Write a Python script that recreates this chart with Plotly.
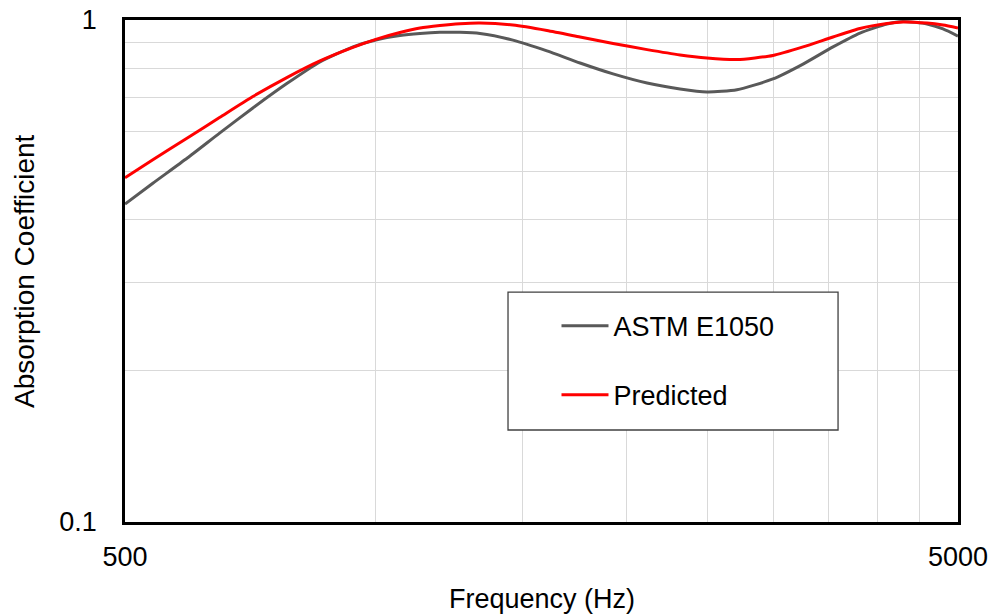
import plotly.graph_objects as go

# Normal-incidence absorption coefficient vs. frequency
freq = [500, 540, 594, 650, 712, 782, 857, 939, 1000, 1069, 1130, 1194, 1262,
        1334, 1461, 1605, 1759, 1927, 2117, 2319, 2498, 2714, 2998, 3258, 3539,
        3813, 4109, 4295, 4590, 4797, 5000]
alpha_astm = [0.430, 0.473, 0.531, 0.596, 0.668, 0.747, 0.825, 0.884, 0.912, 0.931,
              0.940, 0.945, 0.945, 0.940, 0.912, 0.868, 0.821, 0.781, 0.749, 0.729,
              0.719, 0.726, 0.763, 0.817, 0.884, 0.942, 0.982, 0.993, 0.982, 0.960,
              0.929]
alpha_pred = [0.485, 0.527, 0.582, 0.640, 0.704, 0.768, 0.829, 0.882, 0.915, 0.944,
              0.964, 0.975, 0.983, 0.986, 0.977, 0.953, 0.925, 0.898, 0.873, 0.852,
              0.840, 0.834, 0.850, 0.884, 0.925, 0.962, 0.984, 0.991, 0.986, 0.977,
              0.964]

x_ticks = [500, 5000]
x_ticktext = ["500", "5000"]
x_grid = [1000, 1500, 2000, 2500, 3000, 3500, 4000, 4500]
y_ticks = [0.1, 1]
y_ticktext = ["0.1", "1"]
y_grid = [0.2, 0.3, 0.4, 0.5, 0.6, 0.7, 0.8, 0.9]

FONT = "Liberation Sans, Arial, sans-serif"
GRID = "#d9d9d9"

fig = go.Figure()
fig.add_trace(go.Scatter(
    x=freq, y=alpha_astm, mode="lines", name="ASTM E1050",
    line=dict(color="#595959", width=3, shape="spline", smoothing=0.6),
    legendgroup="a",
))
fig.add_trace(go.Scatter(
    x=freq, y=alpha_pred, mode="lines", name="Predicted",
    line=dict(color="#ff0000", width=3, shape="spline", smoothing=0.6),
    legendgroup="b",
))

fig.update_layout(
    width=995, height=615,
    margin=dict(l=125, r=37, t=20, b=93),
    paper_bgcolor="white", plot_bgcolor="white",
    font=dict(family=FONT, size=27, color="#000000"),
    showlegend=True,
    legend=dict(
        x=0.518, xanchor="left", y=0.439, yanchor="top",
        bgcolor="rgba(0,0,0,0)", borderwidth=0,
        font=dict(size=27, family=FONT, color="#000000"),
        tracegroupgap=31, traceorder="grouped", itemwidth=47,
    ),
    shapes=[dict(
        type="rect", xref="paper", yref="paper",
        x0=0.4598, x1=0.856, y0=0.1833, y1=0.458,
        line=dict(color="#404040", width=1.3), fillcolor="white", layer="above",
    )],
    annotations=[
        dict(text="Frequency (Hz)", xref="paper", yref="paper", x=0.5, y=-0.153,
             xanchor="center", yanchor="middle", showarrow=False,
             font=dict(size=27, family=FONT, color="#000000")),
        dict(text="Absorption Coefficient", xref="paper", yref="paper", x=-0.1212, y=0.5,
             xanchor="center", yanchor="middle", textangle=-90, showarrow=False,
             font=dict(size=28, family=FONT, color="#000000")),
    ],
)

fig.update_xaxes(
    type="log", range=[2.69897, 3.69897], automargin=False,
    tickmode="array", tickvals=x_ticks, ticktext=x_ticktext,
    showgrid=False, zeroline=False, ticks="", ticklabelstandoff=9,
    showline=True, linecolor="#000000", linewidth=2.5, mirror=True,
    minor=dict(tickmode="array", tickvals=x_grid, showgrid=True,
               gridcolor=GRID, gridwidth=1, ticks=""),
)
fig.update_yaxes(
    type="log", range=[-1, 0], automargin=False,
    tickmode="array", tickvals=y_ticks, ticktext=y_ticktext,
    showgrid=False, zeroline=False, ticks="", ticklabelstandoff=20,
    showline=True, linecolor="#000000", linewidth=2.5, mirror=True,
    minor=dict(tickmode="array", tickvals=y_grid, showgrid=True,
               gridcolor=GRID, gridwidth=1, ticks=""),
)

fig.write_html("out.html")
